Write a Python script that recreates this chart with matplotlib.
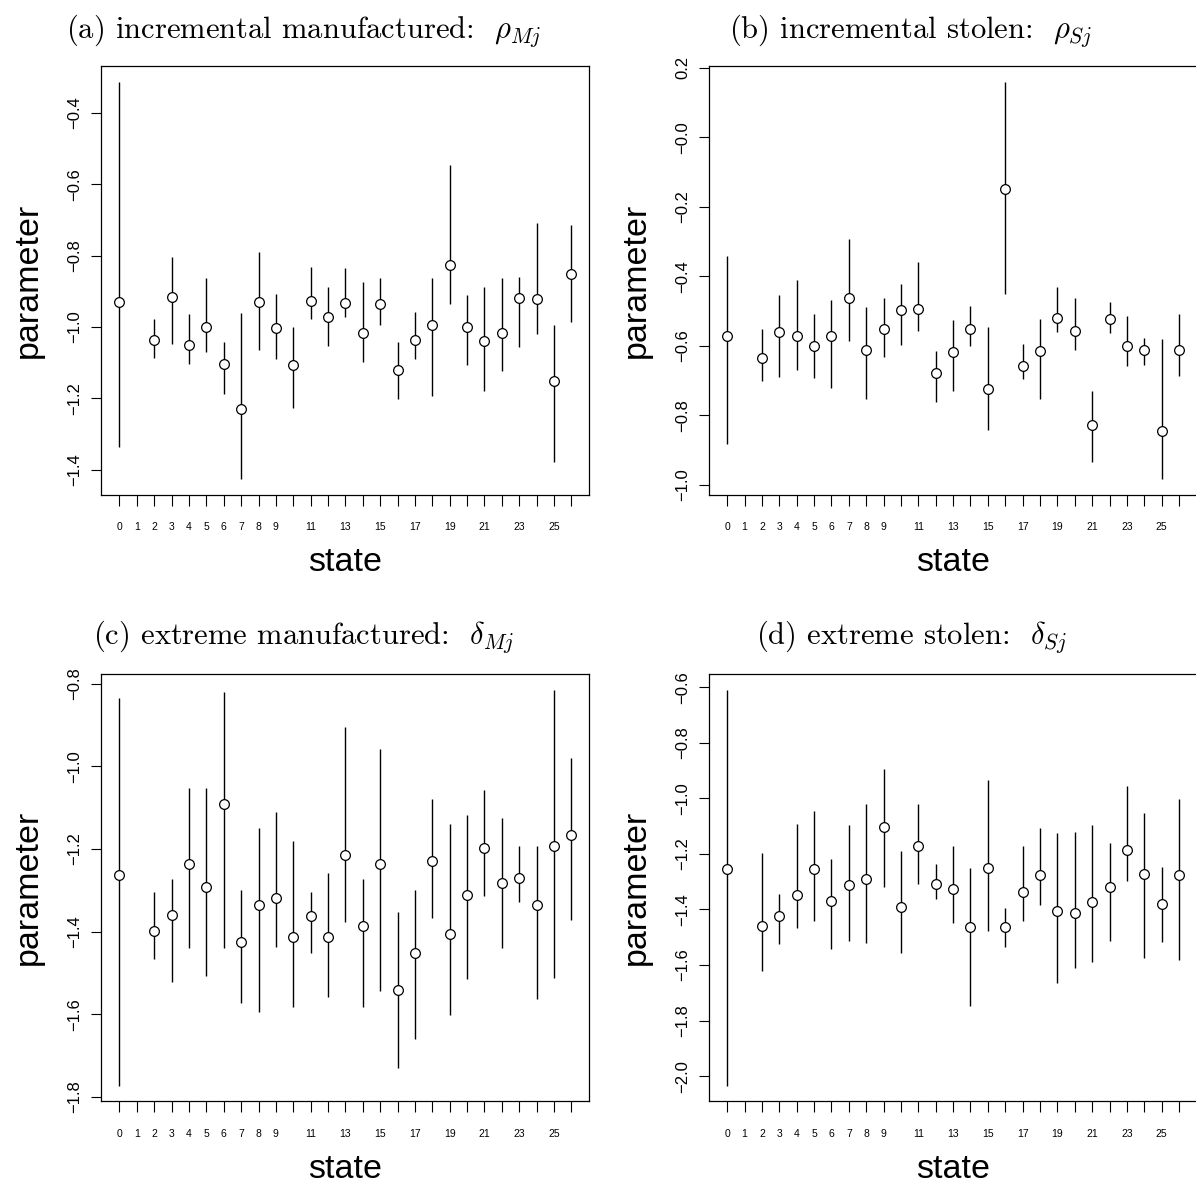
import matplotlib
matplotlib.use("Agg")
import matplotlib.pyplot as plt
import numpy as np

plt.rcParams["font.family"] = ["Liberation Sans", "DejaVu Sans"]
plt.rcParams["mathtext.fontset"] = "cm"

# states with an estimate (state 1 has none)
states = [0] + list(range(2, 27))

rho_m = [-0.929, -1.036, -0.917, -1.050, -1.001, -1.104, -1.230, -0.929, -1.002, -1.107,
         -0.927, -0.973, -0.933, -1.016, -0.935, -1.121, -1.036, -0.994, -0.825, -1.000,
         -1.038, -1.017, -0.919, -0.922, -1.150, -0.852]
rho_m_hi = [-0.313, -0.976, -0.804, -0.962, -0.862, -1.042, -0.961, -0.789, -0.907, -1.000,
            -0.831, -0.888, -0.835, -0.874, -0.862, -1.041, -0.959, -0.862, -0.547, -0.911,
            -0.888, -0.862, -0.860, -0.707, -0.994, -0.714]
rho_m_lo = [-1.337, -1.086, -1.047, -1.104, -1.069, -1.187, -1.425, -1.064, -1.090, -1.228,
            -0.976, -1.052, -0.972, -1.097, -0.995, -1.202, -1.090, -1.193, -0.934, -1.106,
            -1.178, -1.122, -1.055, -1.019, -1.378, -0.986]

rho_s = [-0.571, -0.634, -0.561, -0.571, -0.600, -0.571, -0.461, -0.612, -0.550, -0.496,
         -0.495, -0.678, -0.617, -0.550, -0.723, -0.150, -0.657, -0.616, -0.519, -0.556,
         -0.827, -0.523, -0.600, -0.613, -0.845, -0.611]
rho_s_hi = [-0.342, -0.550, -0.455, -0.410, -0.508, -0.468, -0.294, -0.489, -0.461, -0.422,
            -0.358, -0.615, -0.525, -0.484, -0.546, 0.159, -0.595, -0.523, -0.430, -0.462,
            -0.729, -0.474, -0.513, -0.577, -0.579, -0.508]
rho_s_lo = [-0.881, -0.702, -0.689, -0.670, -0.692, -0.720, -0.586, -0.753, -0.631, -0.596,
            -0.557, -0.761, -0.729, -0.599, -0.843, -0.450, -0.696, -0.753, -0.560, -0.611,
            -0.935, -0.562, -0.659, -0.654, -0.982, -0.687]

delta_m = [-1.264, -1.398, -1.361, -1.236, -1.293, -1.090, -1.426, -1.335, -1.318, -1.413,
           -1.363, -1.412, -1.215, -1.386, -1.236, -1.541, -1.453, -1.230, -1.405, -1.312,
           -1.198, -1.283, -1.270, -1.335, -1.193, -1.166]
delta_m_hi = [-0.835, -1.304, -1.272, -1.053, -1.053, -0.819, -1.299, -1.150, -1.110, -1.181,
              -1.304, -1.259, -0.904, -1.273, -0.957, -1.352, -1.299, -1.078, -1.140, -1.117,
              -1.057, -1.126, -1.193, -1.193, -0.814, -0.979]
delta_m_lo = [-1.773, -1.467, -1.521, -1.439, -1.508, -1.439, -1.573, -1.596, -1.438, -1.583,
              -1.451, -1.559, -1.377, -1.582, -1.543, -1.731, -1.661, -1.366, -1.602, -1.514,
              -1.314, -1.439, -1.328, -1.564, -1.512, -1.373]

delta_s = [-1.254, -1.458, -1.424, -1.349, -1.254, -1.370, -1.311, -1.290, -1.105, -1.391,
           -1.171, -1.309, -1.328, -1.462, -1.250, -1.465, -1.339, -1.277, -1.404, -1.413,
           -1.374, -1.321, -1.186, -1.271, -1.379, -1.277]
delta_s_hi = [-0.609, -1.197, -1.346, -1.091, -1.047, -1.219, -1.095, -1.019, -0.893, -1.190,
              -1.021, -1.236, -1.170, -1.251, -0.934, -1.395, -1.170, -1.108, -1.126, -1.121,
              -1.097, -1.162, -0.957, -1.053, -1.246, -1.001]
delta_s_lo = [-2.034, -1.623, -1.523, -1.468, -1.440, -1.543, -1.512, -1.522, -1.319, -1.558,
              -1.307, -1.361, -1.448, -1.748, -1.477, -1.537, -1.440, -1.383, -1.664, -1.612,
              -1.589, -1.513, -1.297, -1.574, -1.518, -1.583]

titles = [
    r"(a) incremental manufactured:  $\rho_{Mj}$",
    r"(b) incremental stolen:  $\rho_{Sj}$",
    r"(c) extreme manufactured:  $\delta_{Mj}$",
    r"(d) extreme stolen:  $\delta_{Sj}$",
]
yticks = [
    np.arange(-1.4, -0.39, 0.2),
    np.arange(-1.0, 0.21, 0.2),
    np.arange(-1.8, -0.79, 0.2),
    np.arange(-2.0, -0.59, 0.2),
]
xtick_labels = [str(s) if (s <= 9 or s % 2 == 1) else "" for s in range(27)]

panels = [
    (rho_m, rho_m_lo, rho_m_hi),
    (rho_s, rho_s_lo, rho_s_hi),
    (delta_m, delta_m_lo, delta_m_hi),
    (delta_s, delta_s_lo, delta_s_hi),
]

W, H = 1196, 1186
fig = plt.figure(figsize=(W / 100, H / 100), dpi=100)

# pixel boxes: left, top, width, height
boxes = [(101.4, 66.1, 488, 428.5), (709.1, 66.1, 488, 428.5),
         (101.4, 673.8, 488, 427.6), (709.1, 673.8, 488, 427.6)]
title_xy = [(304, 31), (911, 31), (304, 637), (912, 637)]

for i, ((est, lo, hi), (l, t, w, h)) in enumerate(zip(panels, boxes)):
    ax = fig.add_axes([l / W, 1 - (t + h) / H, w / W, h / H])
    ax.vlines(states, lo, hi, color="black", lw=1.0, zorder=2)
    ax.plot(states, est, "o", ms=7, mfc="white", mec="black", mew=0.9, zorder=3)

    ymin, ymax = min(lo), max(hi)
    pad = 0.04 * (ymax - ymin)
    ax.set_ylim(ymin - pad, ymax + pad)
    ax.set_xlim(-0.04 * 26, 26 * 1.04)

    ax.set_xticks(range(27))
    ax.set_xticklabels(xtick_labels, fontsize=7.5)
    ax.set_yticks(yticks[i])
    ax.set_yticklabels([f"{v:.1f}".replace("-", "\u2212") for v in yticks[i]],
                       fontsize=12, rotation=90, va="center")
    ax.tick_params(axis="x", direction="out", length=8, width=0.8, pad=12)
    ax.tick_params(axis="y", direction="out", length=7.5, width=0.8, pad=6)
    for sp in ax.spines.values():
        sp.set_linewidth(0.9)

    left_col = l < 600
    fig.text((28.5 if left_col else 636) / W, 1 - (t + h / 2) / H, "parameter",
             rotation=90, ha="center", va="center", fontsize=24.5)
    fig.text((345 if left_col else 953) / W, 1 - (t + h + 68) / H, "state",
             ha="center", va="center", fontsize=24.5)
    tx, ty = title_xy[i]
    fig.text(tx / W, 1 - ty / H, titles[i], ha="center", va="center",
             fontsize=22, family="cmr10")

fig.savefig("out.png", dpi=100)
